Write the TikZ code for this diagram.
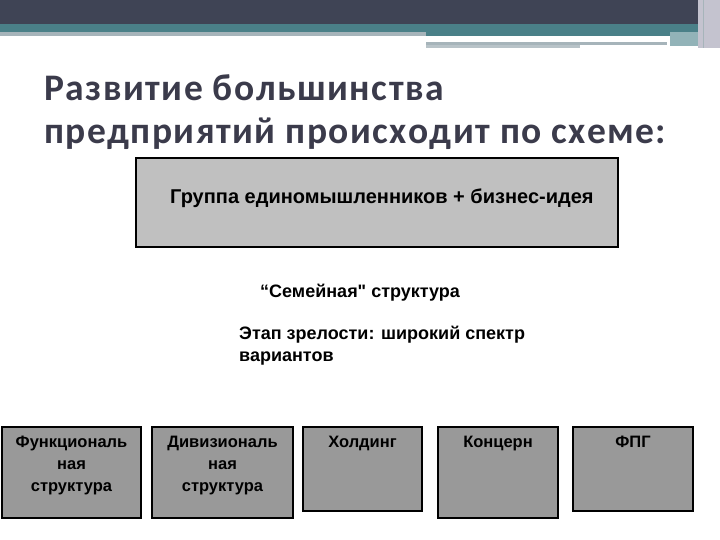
\documentclass[tikz,border=0pt]{standalone}
\usepackage{fontspec}
\setmainfont{Liberation Sans}[Ligatures=TeXOff]
\newfontfamily\titlefont{Carlito}[LetterSpace=4]
\definecolor{topdark}{HTML}{3F4455}
\definecolor{topteal}{HTML}{4A8088}
\definecolor{topgray}{HTML}{A6B4BA}
\definecolor{stripgray}{HTML}{C4C3CF}
\definecolor{titlecol}{HTML}{3B3B4B}
\definecolor{boxlight}{HTML}{C0C0C0}
\definecolor{boxdark}{HTML}{999999}
\tikzset{
  bigbox/.style={draw=black, line width=1.2pt, fill=boxlight},
  smallbox/.style={draw=black, line width=1.2pt, fill=boxdark},
  titletext/.style={anchor=base west, inner sep=0pt, text=titlecol, font=\titlefont\bfseries\fontsize{37.5}{43}\selectfont},
  plaintext/.style={inner sep=0pt, text=black, font=\bfseries\fontsize{18}{22}\selectfont},
  boxtext/.style={anchor=north, inner sep=0pt, align=center, text=black, font=\bfseries\fontsize{16.5}{22}\selectfont}
}
\begin{document}
\begin{tikzpicture}[x=1pt, y=-1pt]
\useasboundingbox (0,0) rectangle (720,540);
\fill[white] (0,0) rectangle (720,540);
% top decoration
\fill[topdark] (0,0) rectangle (698,24);
\fill[topteal] (0,24) rectangle (698,32);
\fill[topgray] (0,32) rectangle (426,36);
\fill[topteal] (426,32) rectangle (670,36);
\fill[topteal!60!white] (670,32) rectangle (698,46);
\fill[topgray] (426,42) rectangle (667,45);
\fill[topgray!80!white] (426,45) rectangle (580,48);
\fill[stripgray] (698,0) rectangle (720,48);
\draw[topgray, line width=1pt] (703,0) -- (703,48);
% title
\node[titletext] (t1) at (44,101) {Развитие большинства};
\node[titletext] (t2) at (44,144) {предприятий происходит по схеме:};
% top box
\node[bigbox, minimum width=482pt, minimum height=89pt, inner sep=0pt] (top) at (377,202.5) {};
\node[plaintext, anchor=base west, font=\bfseries\fontsize{20}{22}\selectfont] (toptext) at (170,204) {Группа единомышленников + бизнес-идея};
\node[plaintext, anchor=base west] (fam) at (260,297) {“Семейная" структура};
\node[plaintext, anchor=base west, align=left] (mat) at (239,361) {Этап зрелости: широкий спектр\\вариантов};
% bottom boxes
\node[smallbox, minimum width=139pt, minimum height=91pt, inner sep=0pt] (b1) at (71.5,472.5) {};
\node[smallbox, minimum width=141pt, minimum height=91pt, inner sep=0pt] (b2) at (222.5,472.5) {};
\node[smallbox, minimum width=119pt, minimum height=84pt, inner sep=0pt] (b3) at (362.5,469) {};
\node[smallbox, minimum width=120pt, minimum height=91pt, inner sep=0pt] (b4) at (498,472.5) {};
\node[smallbox, minimum width=120pt, minimum height=84pt, inner sep=0pt] (b5) at (633,469) {};
\node[boxtext] (b1t) at (71.5,436) {Функциональ\\ная\\структура};
\node[boxtext] (b2t) at (222.5,436) {Дивизиональ\\ная\\структура};
\node[boxtext] (b3t) at (362.5,436) {Холдинг};
\node[boxtext] (b4t) at (498,436) {Концерн};
\node[boxtext] (b5t) at (633,436) {ФПГ};
\end{tikzpicture}
\end{document}
